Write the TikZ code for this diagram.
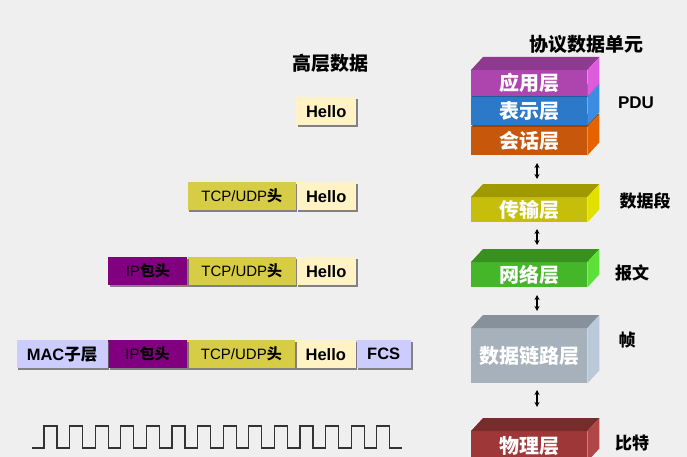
\documentclass[tikz,border=0pt]{standalone}
\usepackage{fontspec}
\setmainfont{Liberation Sans}
\newfontfamily\cjk{Noto Sans CJK SC}
\usetikzlibrary{positioning,arrows.meta,shadows}

\definecolor{bgc}{HTML}{EFEFEF}
\definecolor{helloc}{HTML}{FFF3C6}
\definecolor{tcpc}{HTML}{D6CC45}
\definecolor{ipc}{HTML}{800080}
\definecolor{macc}{HTML}{CCCCFF}
% layer colours: front / top / side
\definecolor{appF}{HTML}{AE45AE}\definecolor{appT}{HTML}{8E3A8E}\definecolor{appS}{HTML}{DC5CDC}
\definecolor{preF}{HTML}{2C79C9}\definecolor{preT}{HTML}{1F5C9C}\definecolor{preS}{HTML}{3C8DE2}
\definecolor{sesF}{HTML}{C7570B}\definecolor{sesT}{HTML}{9E4200}\definecolor{sesS}{HTML}{E46200}
\definecolor{trnF}{HTML}{C5BE0A}\definecolor{trnT}{HTML}{A09A00}\definecolor{trnS}{HTML}{E2E000}
\definecolor{netF}{HTML}{45B52A}\definecolor{netT}{HTML}{38901F}\definecolor{netS}{HTML}{5EE03A}
\definecolor{dllF}{HTML}{A6B1BC}\definecolor{dllT}{HTML}{87919B}\definecolor{dllS}{HTML}{B9C9D8}
\definecolor{phyF}{HTML}{9E3838}\definecolor{phyT}{HTML}{782B2B}\definecolor{phyS}{HTML}{B04646}

\newcommand{\zh}[1]{{\cjk #1}}
% top and right faces of a layer block
\newcommand{\faces}[3]{%
  \fill[#2] (#1.north west) -- ([shift={(12,-13)}]#1.north west) -- ([shift={(12,-13)}]#1.north east) -- (#1.north east) -- cycle;
  \fill[#3] (#1.north east) -- ([shift={(12,-13)}]#1.north east) -- ([shift={(12,-13)}]#1.south east) -- (#1.south east) -- cycle;}

\begin{document}
\begin{tikzpicture}[x=1pt, y=-1pt,
  cell/.style={minimum height=28pt, inner sep=0pt, font=\fontsize{15}{17}\selectfont,
    drop shadow={shadow xshift=1.5pt, shadow yshift=-1.5pt, fill=black!60, opacity=0.8}},
  hello/.style={cell, fill=helloc, minimum width=60pt, font=\bfseries\fontsize{16.5}{18}\selectfont},
  tcp/.style={cell, fill=tcpc, minimum width=108pt},
  ip/.style={cell, fill=ipc, minimum width=79pt},
  mac/.style={cell, fill=macc, minimum width=91pt, font=\bfseries\fontsize{16.5}{18}\selectfont},
  fcs/.style={cell, fill=macc, minimum width=55pt, font=\bfseries\fontsize{16.5}{18}\selectfont},
  layer/.style={minimum width=116pt, inner sep=0pt, anchor=north west, text=white,
    font=\cjk\bfseries\fontsize{20}{22}\selectfont},
  lbl/.style={font=\bfseries\fontsize{17}{19}\selectfont},
  head/.style={font=\bfseries\fontsize{19}{21}\selectfont},
  updown/.style={{Stealth[length=5pt,width=5pt]}-{Stealth[length=5pt,width=5pt]}, line width=1.3pt}]
\fill[bgc] (0,0) rectangle (687,457);
\clip (0,0) rectangle (687,457);

% headings
\node[head] (high) at (330,63) {\zh{高层数据}};
\node[head] (pdutitle) at (586,44) {\zh{协议数据单元}};

% encapsulation rows
\node[hello, anchor=north west] (h1) at (296,97) {Hello};

\node[hello, anchor=north west] (h2) at (296,182) {Hello};
\node[tcp, left=0pt of h2] (t2) {TCP/UDP\zh{\bfseries 头}};

\node[hello, anchor=north west] (h3) at (296,257) {Hello};
\node[tcp, left=0pt of h3] (t3) {TCP/UDP\zh{\bfseries 头}};
\node[ip, left=0pt of t3] (i3) {IP\zh{\bfseries 包头}};

\node[fcs, anchor=north west] (f4) at (356,340) {FCS};
\node[hello, left=0pt of f4] (h4) {Hello};
\node[tcp, left=0pt of h4] (t4) {TCP/UDP\zh{\bfseries 头}};
\node[ip, left=0pt of t4] (i4) {IP\zh{\bfseries 包头}};
\node[mac, left=0pt of i4] (m4) {MAC\zh{子层}};

% bit stream
\draw[line width=1.3pt, black!80] (32,448) -- (44,448)
  foreach \k in {1,...,14} { -- ++(0,-22) -- ++(13,0) -- ++(0,22) -- ++(12.6,0) };

% layer blocks
\node[layer, fill=sesF, minimum height=28pt] (ses) at (471,127) {会话层};
\faces{ses}{sesT}{sesS}
\node[layer, fill=preF, minimum height=28pt] (pre) at (471,97) {表示层};
\faces{pre}{preT}{preS}
\node[layer, fill=appF, minimum height=26pt] (app) at (471,70) {应用层};
\faces{app}{appT}{appS}
\node[layer, fill=trnF, minimum height=25pt] (trn) at (471,197) {传输层};
\faces{trn}{trnT}{trnS}
\node[layer, fill=netF, minimum height=25pt] (net) at (471,262) {网络层};
\faces{net}{netT}{netS}
\node[layer, fill=dllF, minimum height=55pt] (dll) at (471,328) {数据链路层};
\faces{dll}{dllT}{dllS}
\node[layer, fill=phyF, minimum height=30pt] (phy) at (471,431) {物理层};
\faces{phy}{phyT}{phyS}

% arrows between layers
\coordinate (a1) at (537,163); \coordinate (b1) at (537,179);
\coordinate (a2) at (537,229); \coordinate (b2) at (537,245);
\coordinate (a3) at (537,295); \coordinate (b3) at (537,311);
\coordinate (a4) at (537,390); \coordinate (b4) at (537,407);
\foreach \i in {1,...,4} \draw[updown] (a\i) -- (b\i);

% unit names
\node[lbl] (pdu) at (636,103) {PDU};
\node[lbl] (seg) at (645,201) {\zh{数据段}};
\node[lbl] (pkt) at (632,273) {\zh{报文}};
\node[lbl] (frm) at (627,340) {\zh{帧}};
\node[lbl] (bit) at (632,443) {\zh{比特}};
\end{tikzpicture}
\end{document}
